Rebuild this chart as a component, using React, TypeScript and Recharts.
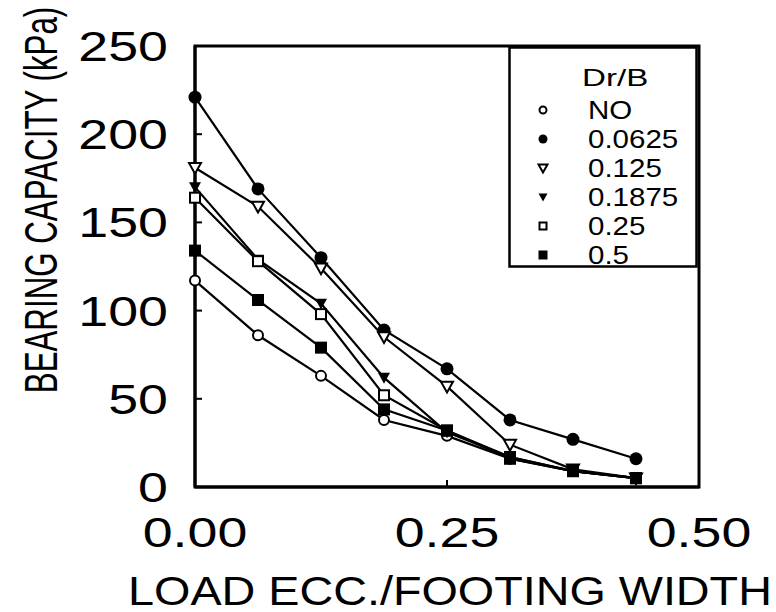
import React from 'react'
import { LineChart, Line, XAxis, YAxis, ReferenceArea, Legend, Label } from 'recharts'

// load eccentricity / footing width
const ecc = [0, 0.0625, 0.125, 0.1875, 0.25, 0.3125, 0.375, 0.4375]
// bearing capacity (kPa) per Dr/B
const capNO = [117, 86, 63, 38, 29, 16, 9, 5]
const cap0625 = [221, 169, 130, 89, 67, 38, 27, 16]
const cap125 = [181, 159, 124, 85, 57, 24, 10, 5]
const cap1875 = [170, 129, 104, 62, 31, 17, 9, 5]
const cap25 = [164, 128, 98, 52, 32, 17, 9, 5]
const cap5 = [134, 106, 79, 44, 32, 16, 9, 5]

const xTicks = [0, 0.25, 0.5]
const xTickLabels = ['0.00', '0.25', '0.50']
const yTicks = [0, 50, 100, 150, 200, 250]
const yTickLabels = ['0', '50', '100', '150', '200', '250']

type Kind = 'circleOpen' | 'circleFilled' | 'triOpen' | 'triFilled' | 'squareOpen' | 'squareFilled'

const series: { key: string; label: string; values: number[]; kind: Kind }[] = [
  { key: 'no', label: 'NO', values: capNO, kind: 'circleOpen' },
  { key: 'd0625', label: '0.0625', values: cap0625, kind: 'circleFilled' },
  { key: 'd125', label: '0.125', values: cap125, kind: 'triOpen' },
  { key: 'd1875', label: '0.1875', values: cap1875, kind: 'triFilled' },
  { key: 'd25', label: '0.25', values: cap25, kind: 'squareOpen' },
  { key: 'd5', label: '0.5', values: cap5, kind: 'squareFilled' },
]

const data = ecc.map((x, i) => {
  const row: Record<string, number> = { x }
  series.forEach((s) => (row[s.key] = s.values[i]))
  return row
})

const FONT = '"Liberation Sans", Arial, Helvetica, sans-serif'

function Marker({ cx, cy, kind, s }: { cx: number; cy: number; kind: Kind; s: number }) {
  const h = s / 2
  switch (kind) {
    case 'circleOpen':
      return <circle cx={cx} cy={cy} r={h - 1} fill="#fff" stroke="#000" strokeWidth={2} />
    case 'circleFilled':
      return <circle cx={cx} cy={cy} r={h} fill="#000" />
    case 'triOpen':
    case 'triFilled': {
      const pts = `${cx - h},${cy - h * 0.8} ${cx + h},${cy - h * 0.8} ${cx},${cy + h}`
      return kind === 'triOpen' ? (
        <polygon points={pts} fill="#fff" stroke="#000" strokeWidth={2} />
      ) : (
        <polygon points={pts} fill="#000" />
      )
    }
    case 'squareOpen':
      return <rect x={cx - h + 1} y={cy - h + 1} width={s - 2} height={s - 2} fill="#fff" stroke="#000" strokeWidth={2} />
    default:
      return <rect x={cx - h} y={cy - h} width={s} height={s} fill="#000" />
  }
}

const renderDot = (kind: Kind) => (p: any) => (
  <Marker key={`${kind}-${p.index}`} cx={p.cx} cy={p.cy} kind={kind} s={kind === 'circleFilled' ? 13 : 12} />
)

function YTick(props: any) {
  const { x, y, payload, index } = props
  const v = payload.value
  return (
    <g>
      {v > 0 && v < 250 && <line x1={x} y1={y} x2={x + 7} y2={y} stroke="#000" strokeWidth={2} />}
      <text
        transform={`translate(${x - 27},${y + 15}) scale(1.28,1)`}
        textAnchor="end"
        fontSize={42}
        fontFamily={FONT}
        fill="#000"
      >
        {yTickLabels[index]}
      </text>
    </g>
  )
}

function XTick(props: any) {
  const { x, y, payload, index } = props
  const v = payload.value
  return (
    <g>
      {v > 0 && v < 0.5 && <line x1={x} y1={y} x2={x} y2={y - 7} stroke="#000" strokeWidth={2} />}
      <text
        transform={`translate(${x},${y + 60}) scale(1.28,1)`}
        textAnchor="middle"
        fontSize={42}
        fontFamily={FONT}
        fill="#000"
      >
        {xTickLabels[index]}
      </text>
    </g>
  )
}

function LegendBox() {
  const rowY = [110, 139, 168, 197, 226, 255]
  return (
    <svg width={190} height={222} style={{ display: 'block', overflow: 'visible' }}>
      <rect x={1.5} y={1.5} width={187} height={219} fill="#fff" stroke="#000" strokeWidth={2.5} />
      <text transform="translate(74,40) scale(1.38,1)" fontSize={24} fontFamily={FONT} fill="#000">
        Dr/B
      </text>
      {series.map((s, i) => (
        <g key={s.key}>
          <Marker cx={35} cy={rowY[i] - 46} kind={s.kind} s={9} />
          <text
            transform={`translate(80,${rowY[i] - 46 + 9}) scale(1.18,1)`}
            fontSize={25}
            fontFamily={FONT}
            fill="#000"
          >
            {s.label}
          </text>
        </g>
      ))}
    </svg>
  )
}

export default function App() {
  return (
    <div style={{ position: 'absolute', left: 0, top: 0, background: '#fff' }}>
      <LineChart width={776} height={612} data={data} margin={{ top: 46, right: 77, bottom: 65, left: 135 }}>
        <XAxis
          dataKey="x"
          type="number"
          domain={[0, 0.5]}
          ticks={xTicks}
          height={60}
          tickSize={0}
          tickMargin={0}
          tick={<XTick />}
          axisLine={{ stroke: '#000', strokeWidth: 3 }}
          tickLine={false}
        >
          <Label
            content={() => (
              <text
                transform="translate(450,605) scale(1.14,1)"
                textAnchor="middle"
                fontSize={41}
                fontFamily={FONT}
                fill="#000"
              >
                LOAD ECC./FOOTING WIDTH
              </text>
            )}
          />
        </XAxis>
        <YAxis
          type="number"
          domain={[0, 250]}
          ticks={yTicks}
          width={60}
          tickSize={0}
          tickMargin={0}
          tick={<YTick />}
          axisLine={{ stroke: '#000', strokeWidth: 3 }}
          tickLine={false}
        >
          <Label
            content={() => (
              <text
                transform="translate(57,200) rotate(-90) scale(0.745,1.08)"
                textAnchor="middle"
                fontSize={42}
                fontFamily={FONT}
                fill="#000"
              >
                BEARING CAPACITY (kPa)
              </text>
            )}
          />
        </YAxis>
        <ReferenceArea x1={0} x2={0.5} y1={0} y2={250} fill="none" stroke="#000" strokeWidth={3} />
        {series.map((s) => (
          <Line
            key={s.key}
            dataKey={s.key}
            type="linear"
            stroke="#000"
            strokeWidth={2.2}
            dot={renderDot(s.kind)}
            activeDot={false}
            isAnimationActive={false}
          />
        ))}
        <Legend
          layout="horizontal"
          verticalAlign="middle"
          align="center"
          wrapperStyle={{ position: 'absolute', left: 508, top: 46, width: 190, height: 222 }}
          content={() => <LegendBox />}
        />
      </LineChart>
    </div>
  )
}
